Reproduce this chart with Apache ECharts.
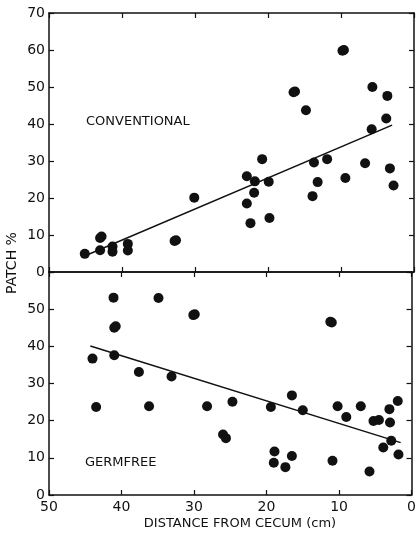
<!DOCTYPE html>
<html>
<head>
<meta charset="utf-8">
<script src="https://cdn.jsdelivr.net/npm/echarts@6/dist/echarts.min.js"></script>
<style>
  html, body { margin: 0; padding: 0; background: #fff; }
  #chart { width: 419px; height: 538px; }
</style>
</head>
<body>
<div id="chart"></div>
<script>
  // distance from cecum (cm), patch %
  var conventional = [
    [45.1, 4.9], [43.0, 9.2], [42.8, 9.6], [43.0, 5.9], [41.3, 6.9], [41.3, 5.5],
    [39.2, 7.6], [39.2, 5.8], [32.8, 8.4], [32.6, 8.6], [30.1, 20.1],
    [22.9, 25.9], [21.8, 24.5], [19.9, 24.4], [21.9, 21.4], [22.9, 18.5],
    [22.4, 13.2], [19.8, 14.6], [20.8, 30.5],
    [16.5, 48.6], [16.3, 48.8], [14.8, 43.7], [13.7, 29.6], [11.9, 30.5],
    [13.2, 24.3], [13.9, 20.5],
    [9.8, 59.8], [9.6, 60.0], [9.4, 25.4], [6.7, 29.4], [5.7, 50.0], [5.8, 38.6],
    [3.65, 47.6], [3.8, 41.5], [3.3, 28.0], [2.8, 23.4]
  ];
  var germfree = [
    [41.1, 53.1], [34.9, 53.0], [29.9, 48.6], [30.1, 48.4], [41.0, 45.0], [40.8, 45.4],
    [44.0, 36.7], [41.0, 37.6], [37.6, 33.1], [33.1, 31.9], [43.5, 23.7], [36.2, 23.9],
    [28.2, 23.9], [24.7, 25.1], [26.0, 16.3], [25.6, 15.3], [19.4, 23.7], [16.5, 26.8],
    [15.0, 22.8], [18.9, 11.7], [19.0, 8.7], [17.4, 7.5], [16.5, 10.5],
    [11.0, 46.4], [11.2, 46.6], [10.9, 9.2], [10.2, 23.9], [9.0, 21.0], [7.0, 23.9],
    [5.25, 19.9], [4.5, 20.2], [5.8, 6.3], [3.9, 12.8], [3.05, 23.1], [1.9, 25.3],
    [2.97, 19.5], [2.8, 14.6], [1.8, 10.9]
  ];
  // fitted lines, end points
  var convLine = [[44.8, 4.6], [3.0, 39.7]];
  var germLine = [[44.3, 40.1], [1.5, 14.1]];

  var xTicks = { min: 0, max: 50, interval: 10 };
  var convRange = { min: 0, max: 70, interval: 10 };
  var germRange = { min: 0, max: 60, interval: 10 };

  var ink = '#111';
  var font = 'DejaVu Sans';

  function xAxis(grid, pos, labels) {
    return {
      type: 'value', gridIndex: grid, position: pos, inverse: true,
      min: xTicks.min, max: xTicks.max, interval: xTicks.interval,
      axisLine: { show: true, onZero: false, lineStyle: { color: ink, width: 1.5 } },
      axisTick: { show: true, inside: true, length: 5, lineStyle: { color: ink, width: 1.2 } },
      axisLabel: { show: labels, color: ink, fontSize: 14, fontFamily: font, margin: 5 },
      splitLine: { show: false }
    };
  }
  function yAxis(grid, pos, range, labels, hideTop) {
    return {
      type: 'value', gridIndex: grid, position: pos,
      min: range.min, max: range.max, interval: range.interval,
      axisLine: { show: true, onZero: false, lineStyle: { color: ink, width: 1.5 } },
      axisTick: { show: true, inside: true, length: 5, lineStyle: { color: ink, width: 1.2 } },
      axisLabel: {
        show: labels, color: ink, fontSize: 14, fontFamily: font, margin: 4,
        formatter: function (v) { return (hideTop && v === range.max) ? '' : String(v); }
      },
      splitLine: { show: false }
    };
  }

  var chart = echarts.init(document.getElementById('chart'));
  chart.setOption({
    backgroundColor: '#fff',
    animation: false,
    grid: [
      { left: 49, top: 13, width: 365, height: 259 },
      { left: 49, top: 272, width: 365, height: 223 }
    ],
    xAxis: [
      xAxis(0, 'bottom', false),
      xAxis(0, 'top', false),
      xAxis(1, 'top', false),
      xAxis(1, 'bottom', true)
    ],
    yAxis: [
      yAxis(0, 'left', convRange, true, false),
      yAxis(0, 'right', convRange, false, false),
      yAxis(1, 'left', germRange, true, true),
      yAxis(1, 'right', germRange, false, false)
    ],
    series: [
      { type: 'scatter', xAxisIndex: 0, yAxisIndex: 0, data: conventional,
        symbolSize: 10, itemStyle: { color: ink, opacity: 1 } },
      { type: 'line', xAxisIndex: 0, yAxisIndex: 0, data: convLine,
        symbol: 'none', lineStyle: { color: ink, width: 1.5 } },
      { type: 'scatter', xAxisIndex: 3, yAxisIndex: 2, data: germfree,
        symbolSize: 10, itemStyle: { color: ink, opacity: 1 } },
      { type: 'line', xAxisIndex: 3, yAxisIndex: 2, data: germLine,
        symbol: 'none', lineStyle: { color: ink, width: 1.5 } }
    ],
    graphic: [
      { type: 'text', left: 86, top: 115,
        style: { text: 'CONVENTIONAL', font: '13px "DejaVu Sans"', fill: ink } },
      { type: 'text', left: 85, top: 456,
        style: { text: 'GERMFREE', font: '13px "DejaVu Sans"', fill: ink } },
      { type: 'text', x: 12, y: 263, rotation: Math.PI / 2,
        style: { text: 'PATCH %', font: '14px "DejaVu Sans"', fill: ink,
                 align: 'center', verticalAlign: 'middle' } },
      { type: 'text', x: 240, y: 524,
        style: { text: 'DISTANCE FROM CECUM (cm)', font: '13px "DejaVu Sans"', fill: ink,
                 align: 'center', verticalAlign: 'middle' } }
    ]
  });
</script>
</body>
</html>
